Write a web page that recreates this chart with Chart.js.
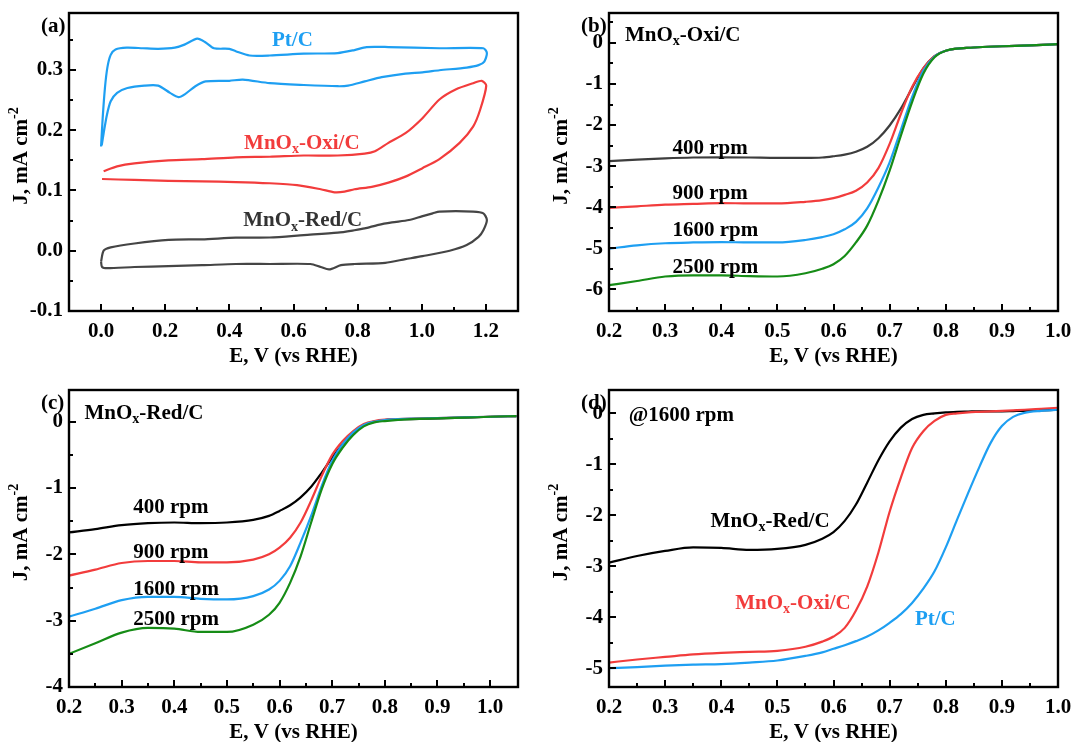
<!DOCTYPE html>
<html><head><meta charset="utf-8">
<script src="https://cdn.jsdelivr.net/npm/chart.js@4.4.0/dist/chart.umd.min.js"></script>
<style>
html,body{margin:0;padding:0;background:#fff;width:1072px;height:742px;overflow:hidden}
.p{position:absolute;width:536px;height:371px}
canvas{display:block}
</style></head><body>
<div class="p" style="left:0;top:0"><canvas id="ca" width="536" height="371"></canvas></div>
<div class="p" style="left:536px;top:0"><canvas id="cb" width="536" height="371"></canvas></div>
<div class="p" style="left:0;top:371px"><canvas id="cc" width="536" height="371"></canvas></div>
<div class="p" style="left:536px;top:371px"><canvas id="cd" width="536" height="371"></canvas></div>
<script>
// ---------- DATA ----------
// (a) cyclic voltammograms
const cvPtE  = [0.000,0.005,0.012,0.020,0.030,0.045,0.080,0.130,0.178,0.230,0.260,0.300,0.325,0.352,0.400,0.420,0.463,0.526,0.632,0.738,0.790,0.828,0.896,1.055,1.192,1.203,1.195,1.177,1.140,1.055,1.002,0.949,0.875,0.822,0.770,0.738,0.632,0.526,0.442,0.400,0.326,0.294,0.262,0.241,0.215,0.178,0.135,0.082,0.050,0.030,0.018,0.008,0.002];
const cvPtJ  = [0.173,0.220,0.270,0.305,0.325,0.334,0.337,0.336,0.335,0.337,0.342,0.352,0.346,0.336,0.335,0.331,0.324,0.324,0.327,0.328,0.333,0.338,0.338,0.336,0.336,0.328,0.314,0.308,0.304,0.2995,0.296,0.294,0.288,0.281,0.274,0.273,0.275,0.278,0.284,0.282,0.281,0.273,0.260,0.255,0.262,0.274,0.274,0.270,0.262,0.248,0.225,0.195,0.175];
const cvOxiE = [0.008,0.05,0.104,0.21,0.315,0.42,0.526,0.632,0.738,0.822,0.854,0.896,0.949,1.002,1.055,1.107,1.16,1.187,1.201,1.182,1.16,1.118,1.055,1.002,0.949,0.896,0.844,0.79,0.759,0.728,0.685,0.611,0.526,0.42,0.315,0.21,0.104,0.003];
const cvOxiJ = [0.132,0.140,0.145,0.150,0.152,0.155,0.156,0.158,0.158,0.161,0.165,0.179,0.195,0.220,0.251,0.268,0.278,0.282,0.274,0.234,0.206,0.179,0.152,0.137,0.123,0.113,0.106,0.102,0.098,0.097,0.102,0.109,0.112,0.114,0.115,0.116,0.1175,0.119];
const cvRedE = [0.000,0.008,0.030,0.104,0.210,0.315,0.420,0.526,0.632,0.738,0.790,0.822,0.865,0.907,0.960,1.000,1.034,1.055,1.160,1.192,1.203,1.192,1.177,1.140,1.087,1.002,0.949,0.886,0.790,0.748,0.711,0.685,0.653,0.526,0.420,0.315,0.210,0.104,0.020,0.003,0.000];
const cvRedJ = [-0.018,0.000,0.0055,0.012,0.018,0.019,0.0216,0.022,0.026,0.030,0.034,0.037,0.043,0.047,0.051,0.057,0.062,0.065,0.065,0.062,0.051,0.034,0.023,0.0094,0.000,-0.009,-0.014,-0.020,-0.022,-0.024,-0.031,-0.027,-0.022,-0.022,-0.022,-0.024,-0.0255,-0.027,-0.029,-0.027,-0.018];

// (b) MnOx-Oxi/C LSV at different rotation rates
const lsvE_b   = [0.20,0.25,0.30,0.35,0.40,0.45,0.50,0.55,0.58,0.60,0.62,0.64,0.66,0.68,0.70,0.72,0.74,0.76,0.78,0.80,0.85,0.90,0.95,1.00];
const oxi400   = [-2.88,-2.84,-2.81,-2.79,-2.785,-2.79,-2.80,-2.80,-2.79,-2.76,-2.72,-2.65,-2.53,-2.32,-2.01,-1.60,-1.10,-0.62,-0.32,-0.19,-0.11,-0.08,-0.06,-0.03];
const oxi900   = [-4.02,-3.98,-3.94,-3.92,-3.90,-3.91,-3.91,-3.87,-3.83,-3.78,-3.70,-3.60,-3.40,-3.05,-2.46,-1.73,-1.07,-0.62,-0.32,-0.19,-0.11,-0.08,-0.06,-0.03];
const oxi1600  = [-5.01,-4.93,-4.88,-4.86,-4.85,-4.86,-4.86,-4.80,-4.73,-4.66,-4.54,-4.36,-4.03,-3.52,-2.91,-2.12,-1.32,-0.68,-0.33,-0.19,-0.11,-0.08,-0.06,-0.03];
const oxi2500  = [-5.90,-5.80,-5.69,-5.66,-5.66,-5.68,-5.69,-5.61,-5.50,-5.39,-5.19,-4.86,-4.45,-3.84,-3.11,-2.26,-1.44,-0.75,-0.35,-0.19,-0.11,-0.08,-0.06,-0.03];

// (c) MnOx-Red/C LSV at different rotation rates
const lsvE_c   = [0.20,0.25,0.30,0.35,0.40,0.45,0.50,0.55,0.58,0.60,0.62,0.64,0.66,0.68,0.70,0.72,0.74,0.76,0.78,0.80,0.85,0.90,0.95,1.00,1.05];
const red400   = [-1.67,-1.62,-1.56,-1.53,-1.52,-1.53,-1.52,-1.48,-1.42,-1.345,-1.26,-1.14,-0.98,-0.77,-0.54,-0.34,-0.16,-0.05,0.0,0.025,0.04,0.05,0.06,0.075,0.085];
const red900   = [-2.32,-2.23,-2.13,-2.10,-2.10,-2.12,-2.12,-2.08,-2.00,-1.90,-1.75,-1.52,-1.19,-0.82,-0.50,-0.29,-0.14,-0.035,0.01,0.03,0.045,0.055,0.065,0.075,0.085];
const red1600  = [-2.94,-2.82,-2.69,-2.64,-2.64,-2.67,-2.68,-2.63,-2.53,-2.40,-2.18,-1.82,-1.42,-0.97,-0.59,-0.34,-0.16,-0.05,0.0,0.025,0.045,0.055,0.065,0.075,0.085];
const red2500  = [-3.50,-3.34,-3.18,-3.11,-3.12,-3.17,-3.17,-3.06,-2.91,-2.73,-2.43,-2.03,-1.52,-1.02,-0.64,-0.39,-0.20,-0.07,-0.01,0.01,0.04,0.05,0.06,0.075,0.085];

// (d) comparison @1600 rpm
const lsvE_d   = [0.20,0.25,0.30,0.35,0.40,0.45,0.50,0.55,0.58,0.60,0.62,0.64,0.66,0.68,0.70,0.72,0.74,0.76,0.78,0.80,0.82,0.84,0.86,0.88,0.90,0.92,0.94,0.97,1.00];
const cmpRed   = [-2.93,-2.80,-2.70,-2.63,-2.64,-2.68,-2.66,-2.58,-2.46,-2.33,-2.11,-1.79,-1.36,-0.92,-0.55,-0.28,-0.11,-0.03,0.0,0.02,0.03,0.035,0.04,0.04,0.04,0.045,0.05,0.06,0.07];
const cmpOxi   = [-4.89,-4.83,-4.78,-4.73,-4.70,-4.68,-4.66,-4.58,-4.48,-4.38,-4.21,-3.87,-3.40,-2.73,-1.93,-1.26,-0.68,-0.35,-0.15,-0.03,0.0,0.02,0.03,0.04,0.05,0.06,0.07,0.09,0.11];
const cmpPt    = [-5.00,-4.98,-4.95,-4.93,-4.92,-4.89,-4.85,-4.76,-4.69,-4.62,-4.55,-4.47,-4.38,-4.26,-4.11,-3.94,-3.72,-3.44,-3.10,-2.63,-2.09,-1.56,-1.05,-0.58,-0.25,-0.07,0.01,0.05,0.07];

// tick values and labels
const xTicksA = [0.0,0.2,0.4,0.6,0.8,1.0,1.2];
const xLabelsA = ['0.0','0.2','0.4','0.6','0.8','1.0','1.2'];
const xMinorA = [0.1,0.3,0.5,0.7,0.9,1.1];
const yTicksA = [-0.1,0.0,0.1,0.2,0.3];
const yLabelsA = ['-0.1','0.0','0.1','0.2','0.3'];
const yMinorA = [-0.05,0.05,0.15,0.25,0.35];

const xTicksLSV = [0.2,0.3,0.4,0.5,0.6,0.7,0.8,0.9,1.0];
const xLabelsLSV = ['0.2','0.3','0.4','0.5','0.6','0.7','0.8','0.9','1.0'];
const xMinorLSV = [0.25,0.35,0.45,0.55,0.65,0.75,0.85,0.95];

const yTicksB = [-6,-5,-4,-3,-2,-1,0];
const yLabelsB = ['-6','-5','-4','-3','-2','-1','0'];
const yMinorB = [-5.5,-4.5,-3.5,-2.5,-1.5,-0.5,0.5];

const yTicksC = [-4,-3,-2,-1,0];
const yLabelsC = ['-4','-3','-2','-1','0'];
const yMinorC = [-3.5,-2.5,-1.5,-0.5];

const yTicksD = [-5,-4,-3,-2,-1,0];
const yLabelsD = ['-5','-4','-3','-2','-1','0'];
const yMinorD = [-4.5,-3.5,-2.5,-1.5,-0.5];

// ---------- STYLE ----------
const FONT = "'Liberation Serif','Times New Roman',serif";
const FS = 21;
const BLUE = '#1e9ff2', RED = '#f23c3c', GREEN = '#168c16', GRAY = '#3d3d3d', BLACK = '#000000';
const W = 536, H = 371;

function pts(xs, ys){ return xs.map((x,i)=>({x:x, y:ys[i]})); }

function parseRich(s){
  const out = []; const re = /\{([_^])([^}]*)\}/g; let last = 0, m;
  while ((m = re.exec(s))){ if (m.index > last) out.push([s.slice(last, m.index),0]); out.push([m[2], m[1]==='_'?1:2]); last = re.lastIndex; }
  if (last < s.length) out.push([s.slice(last),0]);
  return out;
}
function drawRich(ctx, s, x, y, align, color){
  const parts = parseRich(s); const small = Math.round(FS*0.66);
  let w = 0;
  const items = parts.map(p=>{ const sz = p[1]?small:FS; ctx.font = 'bold '+sz+'px '+FONT; const mw = ctx.measureText(p[0]).width; w += mw;
    return {t:p[0], sz:sz, mw:mw, dy: p[1]===1 ? FS*0.3 : (p[1]===2 ? -FS*0.36 : 0)}; });
  let cx = align==='center' ? x - w/2 : x;
  ctx.fillStyle = color || BLACK; ctx.textBaseline = 'middle'; ctx.textAlign = 'left';
  items.forEach(it=>{ ctx.font = 'bold '+it.sz+'px '+FONT; ctx.fillText(it.t, cx, y+it.dy); cx += it.mw; });
}

const framePlugin = {
  id: 'frame',
  afterDraw(chart, args, o){
    const ctx = chart.ctx, a = chart.chartArea, xs = chart.scales.x, ys = chart.scales.y;
    ctx.save();
    ctx.strokeStyle = BLACK; ctx.lineWidth = 2; ctx.lineCap = 'butt';
    ctx.beginPath();
    o.xMajor.forEach(v=>{ const p = Math.round(xs.getPixelForValue(v)); ctx.moveTo(p, a.bottom); ctx.lineTo(p, a.bottom-7); });
    o.xMinor.forEach(v=>{ const p = Math.round(xs.getPixelForValue(v)); ctx.moveTo(p, a.bottom); ctx.lineTo(p, a.bottom-4); });
    o.yMajor.forEach(v=>{ const p = Math.round(ys.getPixelForValue(v)); ctx.moveTo(a.left, p); ctx.lineTo(a.left+7, p); });
    o.yMinor.forEach(v=>{ const p = Math.round(ys.getPixelForValue(v)); ctx.moveTo(a.left, p); ctx.lineTo(a.left+4, p); });
    ctx.stroke();
    ctx.lineWidth = 2.4;
    ctx.strokeRect(a.left, a.top, a.right-a.left, a.bottom-a.top);
    // axis titles
    drawRich(ctx, 'E, V (vs RHE)', (a.left+a.right)/2, a.bottom+46, 'center', BLACK);
    ctx.save(); ctx.translate(a.left-47, (a.top+a.bottom)/2-6); ctx.rotate(-Math.PI/2);
    drawRich(ctx, 'J, mA cm{^-2}', 0, 0, 'center', BLACK); ctx.restore();
    // panel letter
    drawRich(ctx, o.letter, a.left-28, a.top+14, 'left', BLACK);
    // annotations (data coordinates)
    o.notes.forEach(n=>drawRich(ctx, n.text, xs.getPixelForValue(n.x), ys.getPixelForValue(n.y), 'left', n.color));
    ctx.restore();
  }
};

function makeChart(id, cfg){
  const datasets = cfg.series.map(s=>({
    data: pts(s.x, s.y), borderColor: s.color, borderWidth: 2.2, pointRadius: 0,
    fill: false, order: s.order, tension: cfg.loop ? 0.25 : 0,
    cubicInterpolationMode: cfg.loop ? 'default' : 'monotone'
  }));
  const tickFont = {family: FONT, size: FS, weight: 'bold'};
  return new Chart(document.getElementById(id), {
    type: 'line',
    data: {datasets: datasets},
    plugins: [framePlugin],
    options: {
      responsive: false, animation: false, devicePixelRatio: 1,
      layout: {padding: {left: 0, top: cfg.area.top, right: W - cfg.area.right, bottom: 0}},
      plugins: {legend: {display: false}, tooltip: {enabled: false},
        frame: {xMajor: cfg.xTicks, xMinor: cfg.xMinor, yMajor: cfg.yTicks, yMinor: cfg.yMinor, letter: cfg.letter, notes: cfg.notes}},
      scales: {
        x: {type: 'linear', min: cfg.xRange[0], max: cfg.xRange[1],
          grid: {display: false, drawTicks: false, tickLength: 0}, border: {display: false},
          afterBuildTicks: s=>{ s.ticks = cfg.xTicks.map(v=>({value: v})); },
          afterFit: s=>{ s.height = H - cfg.area.bottom; s.paddingLeft = 0; s.paddingRight = 0; },
          ticks: {autoSkip: false, maxRotation: 0, padding: 8, color: BLACK, font: tickFont,
            callback: (v, i)=>cfg.xLabels[i]}},
        y: {type: 'linear', min: cfg.yRange[0], max: cfg.yRange[1],
          grid: {display: false, drawTicks: false, tickLength: 0}, border: {display: false},
          afterBuildTicks: s=>{ s.ticks = cfg.yTicks.map(v=>({value: v})); },
          afterFit: s=>{ s.width = cfg.area.left; s.paddingTop = 0; s.paddingBottom = 0; },
          ticks: {autoSkip: false, padding: 6, color: BLACK, font: tickFont,
            callback: (v, i)=>cfg.yLabels[i]}}
      }
    }
  });
}

makeChart('ca', {
  loop: true, letter: '(a)',
  area: {left: 69, top: 13, right: 518, bottom: 311},
  xRange: [-0.1, 1.3], yRange: [-0.1, 0.3945],
  xTicks: xTicksA, xLabels: xLabelsA, xMinor: xMinorA,
  yTicks: yTicksA, yLabels: yLabelsA, yMinor: yMinorA,
  series: [
    {x: cvPtE, y: cvPtJ, color: BLUE, order: 1},
    {x: cvOxiE, y: cvOxiJ, color: RED, order: 2},
    {x: cvRedE, y: cvRedJ, color: '#454545', order: 3}
  ],
  notes: [
    {text: 'Pt/C', x: 0.533, y: 0.348, color: BLUE},
    {text: 'MnO{_x}-Oxi/C', x: 0.446, y: 0.178, color: RED},
    {text: 'MnO{_x}-Red/C', x: 0.443, y: 0.050, color: '#333333'}
  ]
});

makeChart('cb', {
  loop: false, letter: '(b)',
  area: {left: 73, top: 13, right: 522, bottom: 311},
  xRange: [0.2, 1.0], yRange: [-6.53, 0.73],
  xTicks: xTicksLSV, xLabels: xLabelsLSV, xMinor: xMinorLSV,
  yTicks: yTicksB, yLabels: yLabelsB, yMinor: yMinorB,
  series: [
    {x: lsvE_b, y: oxi400, color: GRAY, order: 4},
    {x: lsvE_b, y: oxi900, color: RED, order: 3},
    {x: lsvE_b, y: oxi1600, color: BLUE, order: 2},
    {x: lsvE_b, y: oxi2500, color: GREEN, order: 1}
  ],
  notes: [
    {text: 'MnO{_x}-Oxi/C', x: 0.2285, y: 0.19, color: BLACK},
    {text: '400 rpm', x: 0.313, y: -2.57, color: BLACK},
    {text: '900 rpm', x: 0.313, y: -3.66, color: BLACK},
    {text: '1600 rpm', x: 0.313, y: -4.58, color: BLACK},
    {text: '2500 rpm', x: 0.313, y: -5.46, color: BLACK}
  ]
});

makeChart('cc', {
  loop: false, letter: '(c)',
  area: {left: 69, top: 19, right: 518, bottom: 316},
  xRange: [0.2, 1.053], yRange: [-4.0, 0.478],
  xTicks: xTicksLSV, xLabels: xLabelsLSV, xMinor: xMinorLSV,
  yTicks: yTicksC, yLabels: yLabelsC, yMinor: yMinorC,
  series: [
    {x: lsvE_c, y: red400, color: BLACK, order: 4},
    {x: lsvE_c, y: red900, color: RED, order: 3},
    {x: lsvE_c, y: red1600, color: BLUE, order: 2},
    {x: lsvE_c, y: red2500, color: GREEN, order: 1}
  ],
  notes: [
    {text: 'MnO{_x}-Red/C', x: 0.2295, y: 0.13, color: BLACK},
    {text: '400 rpm', x: 0.322, y: -1.29, color: BLACK},
    {text: '900 rpm', x: 0.322, y: -1.97, color: BLACK},
    {text: '1600 rpm', x: 0.322, y: -2.53, color: BLACK},
    {text: '2500 rpm', x: 0.322, y: -2.99, color: BLACK}
  ]
});

makeChart('cd', {
  loop: false, letter: '(d)',
  area: {left: 73, top: 19, right: 522, bottom: 316},
  xRange: [0.2, 1.0], yRange: [-5.37, 0.458],
  xTicks: xTicksLSV, xLabels: xLabelsLSV, xMinor: xMinorLSV,
  yTicks: yTicksD, yLabels: yLabelsD, yMinor: yMinorD,
  series: [
    {x: lsvE_d, y: cmpRed, color: BLACK, order: 3},
    {x: lsvE_d, y: cmpOxi, color: RED, order: 2},
    {x: lsvE_d, y: cmpPt, color: BLUE, order: 1}
  ],
  notes: [
    {text: '@1600 rpm', x: 0.235, y: -0.045, color: BLACK},
    {text: 'MnO{_x}-Red/C', x: 0.381, y: -2.12, color: BLACK},
    {text: 'MnO{_x}-Oxi/C', x: 0.425, y: -3.73, color: RED},
    {text: 'Pt/C', x: 0.745, y: -4.05, color: BLUE}
  ]
});
</script>
</body></html>
